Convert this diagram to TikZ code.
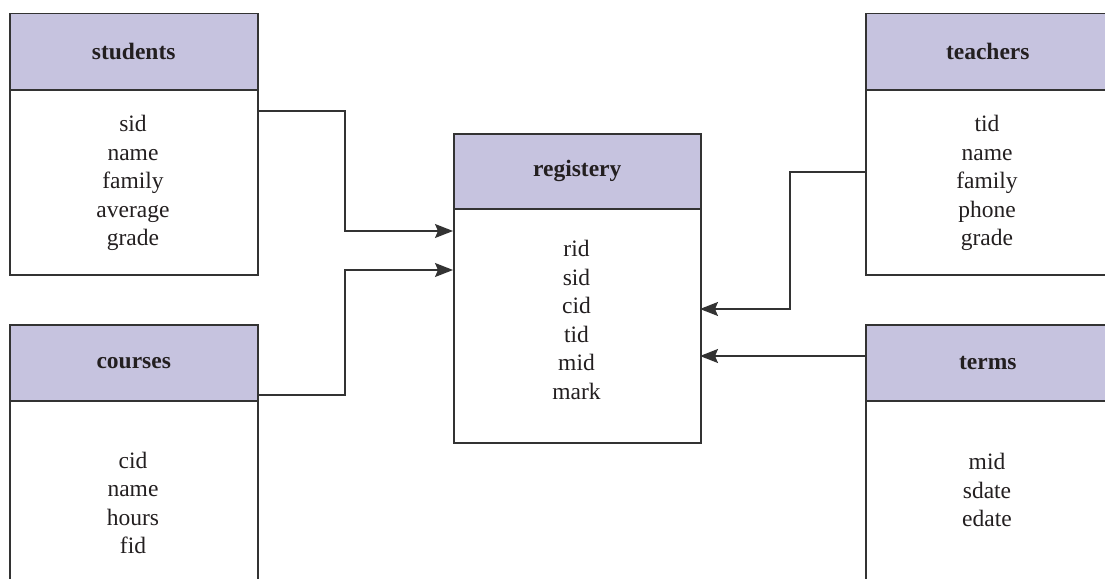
\documentclass[tikz,border=0pt]{standalone}
\usepackage{fontspec}
\setmainfont{Liberation Serif}
\usetikzlibrary{arrows.meta}
\definecolor{hdrfill}{HTML}{C6C3DF}
\definecolor{edge}{HTML}{333333}
\definecolor{ink}{HTML}{231F20}
\begin{document}
\begin{tikzpicture}[x=1pt,y=-1pt,
  hdr/.style={draw=edge, line width=1.5pt, fill=hdrfill, anchor=north west, inner sep=0pt,
    font=\bfseries\fontsize{23.5}{28.5}\selectfont, text=ink},
  bodybox/.style={draw=edge, line width=1.5pt, fill=white, anchor=north west, inner sep=0pt},
  fields/.style={align=center, font=\fontsize{23.5}{28.5}\selectfont, text=ink, inner sep=0pt},
  arr/.style={draw=edge, line width=1.4pt, -{Stealth[length=18pt,width=14pt,inset=3pt]}}]
\useasboundingbox (0,0) rectangle (1105,578);
\clip (0,0) rectangle (1105,578);
\fill[white] (0,0) rectangle (1105,578);

% students
\node[bodybox, minimum width=248pt, minimum height=185pt] (sb) at (9,89) {};
\node[hdr, minimum width=248pt, minimum height=76pt] (sh) at (9,13) {students};
\node[fields] (sf) at (133,183) {sid\\name\\family\\average\\grade};

% courses
\node[bodybox, minimum width=248pt, minimum height=200pt] (cb) at (9,400) {};
\node[hdr, minimum width=248pt, minimum height=76pt] (ch) at (9,324) {courses};
\node[fields] (cf) at (133,503) {cid\\name\\hours\\fid};

% registery
\node[bodybox, minimum width=247pt, minimum height=234pt] (rb) at (453,208) {};
\node[hdr, minimum width=247pt, minimum height=75pt] (rh) at (453,133) {registery};
\node[fields] (rf) at (576.5,320) {rid\\sid\\cid\\tid\\mid\\mark};

% teachers
\node[bodybox, minimum width=244pt, minimum height=185pt] (tb) at (865,89) {};
\node[hdr, minimum width=244pt, minimum height=76pt] (th) at (865,13) {teachers};
\node[fields] (tf) at (987,183) {tid\\name\\family\\phone\\grade};

% terms
\node[bodybox, minimum width=244pt, minimum height=200pt] (mb) at (865,400) {};
\node[hdr, minimum width=244pt, minimum height=76pt] (mh) at (865,324) {terms};
\node[fields] (mf) at (987,490) {mid\\sdate\\edate};

% connector end points
\coordinate (s1) at (257,111);
\coordinate (r1) at (453,231);
\coordinate (c1) at (257,395);
\coordinate (r2) at (453,270);
\coordinate (t1) at (865,172);
\coordinate (r3) at (700,309);
\coordinate (m1) at (865,356);
\coordinate (r4) at (700,356);

\draw[arr] (s1) -- (345,111) |- (r1);
\draw[arr] (c1) -- (345,395) |- (r2);
\draw[arr] (t1) -- (790,172) |- (r3);
\draw[arr] (m1) -- (r4);
\end{tikzpicture}
\end{document}
